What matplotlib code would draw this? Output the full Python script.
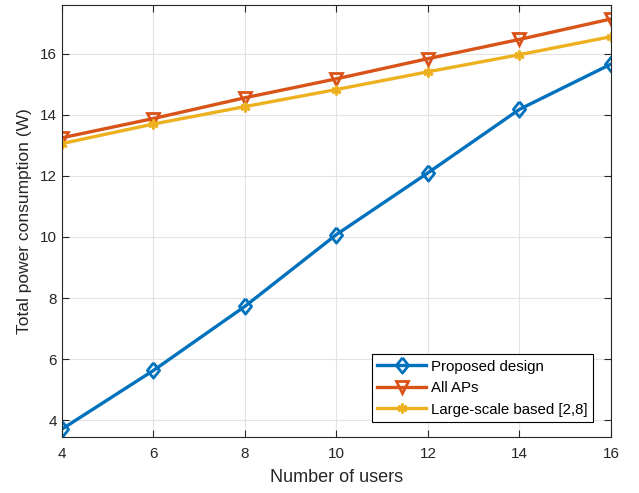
import numpy as np
import matplotlib
matplotlib.use("Agg")
from matplotlib import pyplot as plt

plt.rcParams['font.family'] = ['Liberation Sans', 'DejaVu Sans']

# number of users
users = [4, 6, 8, 10, 12, 14, 16]

# total power consumption (W)
proposed = [3.71, 5.63, 7.73, 10.08, 12.1, 14.18, 15.66]
all_aps = [13.25, 13.88, 14.56, 15.18, 15.84, 16.47, 17.14]
large_scale = [13.06, 13.70, 14.27, 14.83, 15.41, 15.97, 16.56]

xticks = [4, 6, 8, 10, 12, 14, 16]
yticks = [4, 6, 8, 10, 12, 14, 16]

# slightly tall diamond, like the matlab one
diamond = [(0, 1), (0.8, 0), (0, -1), (-0.8, 0), (0, 1)]

fig = plt.figure(figsize=(6.39, 4.93), dpi=100)
ax = fig.add_axes([0.097, 0.1136, 0.859, 0.8764])

axcol = '#262626'
ax.plot(users, proposed, color='#0072BD', lw=2.4, marker=diamond, ms=11,
        mfc='none', mew=2.0, label='Proposed design')
ax.plot(users, all_aps, color='#D95319', lw=2.4, marker='v', ms=9,
        mfc='none', mew=2.0, label='All APs')
ax.plot(users, large_scale, color='#EDB120', lw=2.4, marker=(6, 2, 0), ms=7,
        mew=2.0, label='Large-scale based [2,8]')

ax.set_xlim(4, 16)
ax.set_ylim(3.45, 17.6)
ax.set_xticks(xticks)
ax.set_yticks(yticks)
ax.grid(True, color='#e3e3e3', lw=0.8)
ax.set_axisbelow(True)
ax.tick_params(direction='in', top=True, right=True, colors=axcol,
               labelsize=11, length=5, width=0.8)
ax.tick_params(axis='x', pad=7)
for s in ax.spines.values():
    s.set_color(axcol)
    s.set_linewidth(0.8)

ax.set_xlabel('Number of users', fontsize=13, color=axcol, labelpad=6)
ax.set_ylabel('Total power consumption (W)', fontsize=12.5, color=axcol, labelpad=6)

lgd = ax.legend(loc='lower right', bbox_to_anchor=(0.967, 0.035), borderaxespad=0,
                fontsize=10.8, fancybox=False, framealpha=1, edgecolor='black',
                handlelength=3.3, handletextpad=0.3, labelspacing=0.5,
                borderpad=0.35)
lgd.get_frame().set_linewidth(0.8)

plt.savefig('out.png', dpi=100)
